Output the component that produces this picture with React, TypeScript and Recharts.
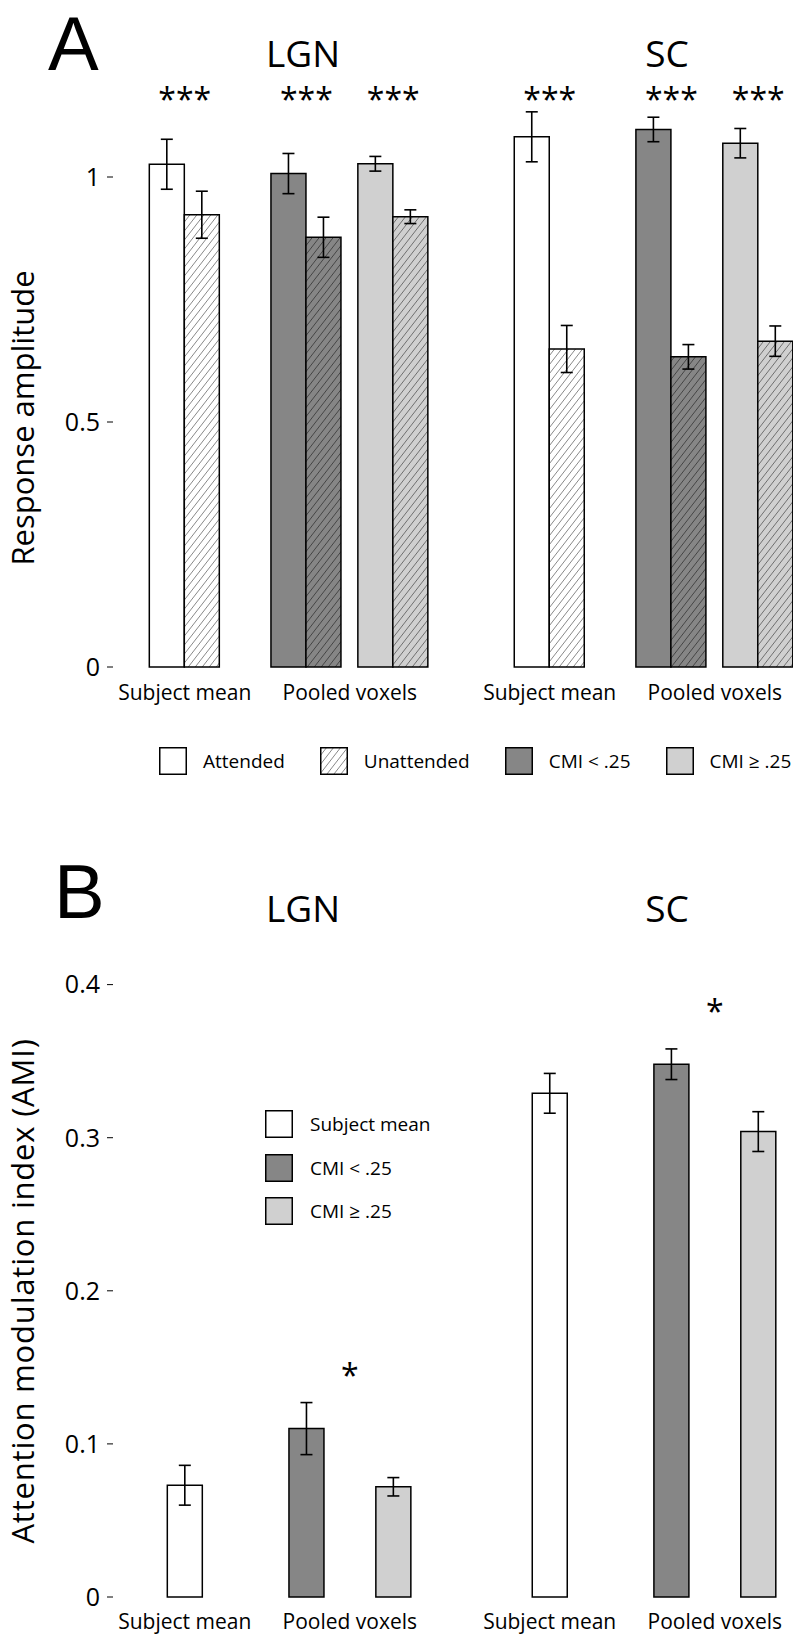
import React from "react";
import { BarChart, Bar, XAxis, YAxis, ErrorBar, Cell, ReferenceDot } from "recharts";

// one entry per bar group, left to right
const regions = ["LGN", "LGN", "LGN", "SC", "SC", "SC"];
const methods = ["Subject mean", "Pooled voxels", "Pooled voxels", "Subject mean", "Pooled voxels", "Pooled voxels"];
const voxelSets = ["all", "cmiLow", "cmiHigh", "all", "cmiLow", "cmiHigh"];

// panel A: response amplitude
const attended = [1.026, 1.007, 1.027, 1.082, 1.097, 1.069];
const attendedErr = [0.051, 0.041, 0.015, 0.051, 0.025, 0.03];
const unattended = [0.923, 0.877, 0.919, 0.649, 0.633, 0.665];
const unattendedErr = [0.048, 0.041, 0.014, 0.048, 0.025, 0.031];
const starsA = ["***", "***", "***", "***", "***", "***"];
const starLevelA = 1.172;
const ticksA = [0, 0.5, 1];

// panel B: attention modulation index
const ami = [0.073, 0.11, 0.072, 0.329, 0.348, 0.304];
const amiErr = [0.013, 0.017, 0.006, 0.013, 0.01, 0.013];
const starRegionsB = ["LGN", "SC"];
const starsB = ["*", "*"];
const starLevelB = [0.149, 0.387];
const ticksB = [0, 0.1, 0.2, 0.3, 0.4];

const legendA = ["Attended", "Unattended", "CMI < .25", "CMI \u2265 .25"];
const legendB = ["Subject mean", "CMI < .25", "CMI \u2265 .25"];

// layout: group centres along a numeric x axis (uneven gaps as in the figure)
const slots = [0, 7, 12, 21, 28, 33];

const FONT = "'Open Sans', 'Noto Sans', sans-serif";
const DARK = "#868686";
const LIGHT = "#d0d0d0";
const fillOf: Record<string, string> = { all: "#ffffff", cmiLow: DARK, cmiHigh: LIGHT };
const hatchOf: Record<string, string> = { all: "url(#hatchWhite)", cmiLow: "url(#hatchDark)", cmiHigh: "url(#hatchLight)" };

// x tick per (region, method): mean of its slots
const labelKeys: string[] = [];
const labelTicks: number[] = [];
const labelNames: string[] = [];
regions.forEach((r, i) => {
  const key = r + "|" + methods[i];
  if (!labelKeys.includes(key)) {
    const idx = regions.map((_, j) => j).filter((j) => regions[j] + "|" + methods[j] === key);
    labelKeys.push(key);
    labelTicks.push(idx.reduce((s, j) => s + slots[j], 0) / idx.length);
    labelNames.push(methods[i]);
  }
});
const tickName = (v: number) => labelNames[labelTicks.indexOf(v)] ?? "";

const tableA = slots.map((slot, i) => ({
  slot,
  attended: attended[i],
  attendedErr: attendedErr[i],
  unattended: unattended[i],
  unattendedErr: unattendedErr[i],
}));
const tableB = slots.map((slot, i) => ({ slot, ami: ami[i], amiErr: amiErr[i] }));

function Hatch({ id, bg, line }: { id: string; bg: string; line: string }) {
  return (
    <pattern id={id} patternUnits="userSpaceOnUse" width={7} height={9}>
      <rect width={7} height={9} fill={bg} />
      <path d="M0,9 L7,0 M-1.75,2.25 L1.75,-2.25 M5.25,11.25 L8.75,6.75" stroke={line} strokeWidth={0.8} />
    </pattern>
  );
}

const patterns = (
  <defs>
    <Hatch id="hatchWhite" bg="#ffffff" line="#6a6a6a" />
    <Hatch id="hatchDark" bg={DARK} line="#333333" />
    <Hatch id="hatchLight" bg={LIGHT} line="#555555" />
  </defs>
);

const starShape = (text: string) => (p: any) =>
  (
    <text x={p.cx} y={p.cy + 18} textAnchor="middle" fontSize={32} fontFamily={FONT} fill="#000">
      {text}
    </text>
  );

function Swatch({ fill, hatch }: { fill: string; hatch?: string }) {
  return (
    <svg width={28} height={28} style={{ display: "block", flex: "none" }}>
      {hatch && (
        <defs>
          <pattern id={"lg" + hatch.slice(1)} patternUnits="userSpaceOnUse" width={7} height={9}>
            <rect width={7} height={9} fill={fill} />
            <path d="M0,9 L7,0 M-1.75,2.25 L1.75,-2.25 M5.25,11.25 L8.75,6.75" stroke={hatch} strokeWidth={0.8} />
          </pattern>
        </defs>
      )}
      <rect
        x={0.75}
        y={0.75}
        width={26.5}
        height={26.5}
        fill={hatch ? `url(#lg${hatch.slice(1)})` : fill}
        stroke="#000"
        strokeWidth={1.5}
      />
    </svg>
  );
}

const legendSwatchA = [
  { fill: "#ffffff" },
  { fill: "#ffffff", hatch: "#6a6a6a" },
  { fill: DARK },
  { fill: LIGHT },
];
const legendSwatchB = [{ fill: "#ffffff" }, { fill: DARK }, { fill: LIGHT }];

const xAxisProps = {
  type: "number" as const,
  dataKey: "slot",
  domain: [-2, 35],
  ticks: labelTicks,
  tickFormatter: tickName,
  interval: 0 as const,
  axisLine: false,
  tickLine: false,
  padding: { left: 37, right: 0 },
  height: 40,
  tick: { fontSize: 21, fill: "#000", fontFamily: FONT },
};

const yAxisProps = {
  width: 113,
  axisLine: false,
  tickLine: { stroke: "#000", strokeWidth: 1 },
  tickSize: 6,
  tickMargin: 7,
  interval: 0 as const,
  tick: { fontSize: 25, fill: "#000", fontFamily: FONT },
};

const LETTER_FONT = "'Liberation Sans', Arial, sans-serif";

export default function App() {
  return (
    <div style={{ position: "absolute", left: 0, top: 0, width: 793, height: 1648, background: "#fff", fontFamily: FONT }}>
      <svg width={793} height={1648} style={{ position: "absolute", left: 0, top: 0 }}>
        <g fontFamily={FONT} fill="#000">
          <text x={48} y={70} fontSize={76} fontFamily={LETTER_FONT}>A</text>
          <text x={303} y={67} fontSize={37} textAnchor="middle">LGN</text>
          <text x={667} y={67} fontSize={37} textAnchor="middle">SC</text>
          <text transform="translate(33.5,418) rotate(-90)" fontSize={31} textAnchor="middle">Response amplitude</text>

          <text x={54} y={918} fontSize={76} fontFamily={LETTER_FONT}>B</text>
          <text x={303} y={922} fontSize={37} textAnchor="middle">LGN</text>
          <text x={667} y={922} fontSize={37} textAnchor="middle">SC</text>
          <text transform="translate(33.5,1291) rotate(-90)" fontSize={31} letterSpacing={0.8} textAnchor="middle">
            Attention modulation index (AMI)
          </text>
        </g>
      </svg>

      <div style={{ position: "absolute", left: 0, top: 0 }}>
        <BarChart width={793} height={800} data={tableA} margin={{ top: 79, right: 0, bottom: 93, left: 0 }} barGap={0} barSize={35}>
          {patterns}
          <XAxis {...xAxisProps} tickMargin={12} />
          <YAxis {...yAxisProps} domain={[0, 1.2]} ticks={ticksA} />
          <Bar dataKey="attended" isAnimationActive={false} stroke="#000" strokeWidth={1.5}>
            {voxelSets.map((v, i) => (
              <Cell key={i} fill={fillOf[v]} />
            ))}
            <ErrorBar dataKey="attendedErr" width={6} stroke="#000" strokeWidth={1.6} />
          </Bar>
          <Bar dataKey="unattended" isAnimationActive={false} stroke="#000" strokeWidth={1.5}>
            {voxelSets.map((v, i) => (
              <Cell key={i} fill={hatchOf[v]} />
            ))}
            <ErrorBar dataKey="unattendedErr" width={6} stroke="#000" strokeWidth={1.6} />
          </Bar>
          {starsA.map((s, i) => (
            <ReferenceDot key={i} x={slots[i]} y={starLevelA} r={0} shape={starShape(s)} />
          ))}
        </BarChart>
      </div>

      <div style={{ position: "absolute", left: 159, top: 747, display: "flex", alignItems: "center", fontSize: 19 }}>
        {legendA.map((name, i) => (
          <div key={name} style={{ display: "flex", alignItems: "center", marginRight: 35 }}>
            <Swatch {...legendSwatchA[i]} />
            <span style={{ marginLeft: 16, whiteSpace: "nowrap" }}>{name}</span>
          </div>
        ))}
      </div>

      <div style={{ position: "absolute", left: 0, top: 800 }}>
        <BarChart width={793} height={848} data={tableB} margin={{ top: 154, right: 0, bottom: 11, left: 0 }} barSize={35}>
          <XAxis {...xAxisProps} tickMargin={11} />
          <YAxis {...yAxisProps} domain={[0, 0.42]} ticks={ticksB} />
          <Bar dataKey="ami" isAnimationActive={false} stroke="#000" strokeWidth={1.5}>
            {voxelSets.map((v, i) => (
              <Cell key={i} fill={fillOf[v]} />
            ))}
            <ErrorBar dataKey="amiErr" width={6} stroke="#000" strokeWidth={1.6} />
          </Bar>
          {starsB.map((s, i) => (
            <ReferenceDot
              key={i}
              x={labelTicks[labelKeys.indexOf(starRegionsB[i] + "|Pooled voxels")]}
              y={starLevelB[i]}
              r={0}
              shape={starShape(s)}
            />
          ))}
        </BarChart>
      </div>

      <div style={{ position: "absolute", left: 265, top: 1110, display: "flex", flexDirection: "column", fontSize: 19 }}>
        {legendB.map((name, i) => (
          <div key={name} style={{ display: "flex", alignItems: "center", height: 28, marginBottom: 15.6 }}>
            <Swatch {...legendSwatchB[i]} />
            <span style={{ marginLeft: 17, whiteSpace: "nowrap" }}>{name}</span>
          </div>
        ))}
      </div>
    </div>
  );
}
